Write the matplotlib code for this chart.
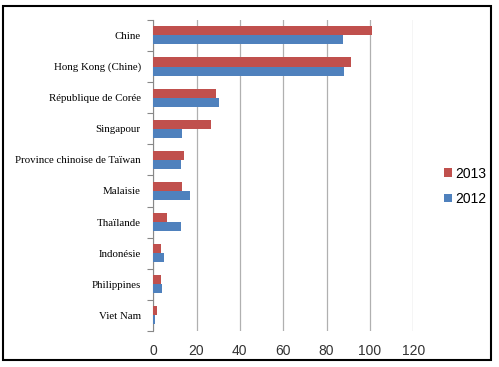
import numpy as np
import matplotlib.pyplot as plt
from matplotlib.patches import Rectangle

# Data
countries = ["Chine", "Hong Kong (Chine)", "République de Corée", "Singapour",
             "Province chinoise de Taïwan", "Malaisie", "Thaïlande", "Indonésie",
             "Philippines", "Viet Nam"]
values_2013 = [101, 91.5, 29.2, 26.9, 14.3, 13.5, 6.6, 3.5, 3.5, 1.8]
values_2012 = [87.7, 88, 30.6, 13.5, 13.0, 17.2, 13.0, 5.2, 4.0, 1.0]
years = ["2013", "2012"]
xticks = [0, 20, 40, 60, 80, 100, 120]

red = "#C0504D"
blue = "#4F81BD"


def main():
    fig = plt.figure(figsize=(4.99, 3.67), dpi=100)
    ax = fig.add_axes([0.307, 0.098, 0.521, 0.848])

    y = np.arange(len(countries))
    h = 0.29
    ax.barh(y - h / 2, values_2013, height=h, color=red, label=years[0], zorder=3)
    ax.barh(y + h / 2, values_2012, height=h, color=blue, label=years[1], zorder=3)

    ax.set_ylim(len(countries) - 0.5, -0.5)
    ax.set_xlim(0, 120)
    ax.set_xticks(xticks)
    ax.set_xticklabels([str(t) for t in xticks], fontsize=10, color="#333333",
                       family="Liberation Sans")
    ax.tick_params(axis="x", length=0, pad=9)

    ax.set_yticks(y)
    ax.set_yticklabels(countries, fontsize=7.8, family="Liberation Serif")
    ax.tick_params(axis="y", which="major", length=0, pad=9)
    ax.set_yticks(np.arange(-0.5, len(countries)), minor=True)
    ax.tick_params(axis="y", which="minor", length=4, color="#888888", width=0.8)

    ax.grid(axis="x", color="#b0b0b0", linewidth=0.9, zorder=0)
    for s in ["top", "right", "bottom"]:
        ax.spines[s].set_visible(False)
    ax.spines["left"].set_color("#888888")
    ax.spines["left"].set_linewidth(0.8)

    ax.legend(loc="center left", bbox_to_anchor=(1.07, 0.465), frameon=False,
              prop={"family": "Liberation Sans", "size": 10},
              handlelength=0.6, handleheight=0.6, handletextpad=0.2,
              labelspacing=0.8)

    # outer frame
    fig.patches.append(Rectangle((3 / 499, 1 - 360 / 367), 488 / 499, 354 / 367,
                                 transform=fig.transFigure, fill=False,
                                 edgecolor="black", linewidth=1.5))

    fig.savefig("out.png", dpi=100)


if __name__ == "__main__":
    main()
